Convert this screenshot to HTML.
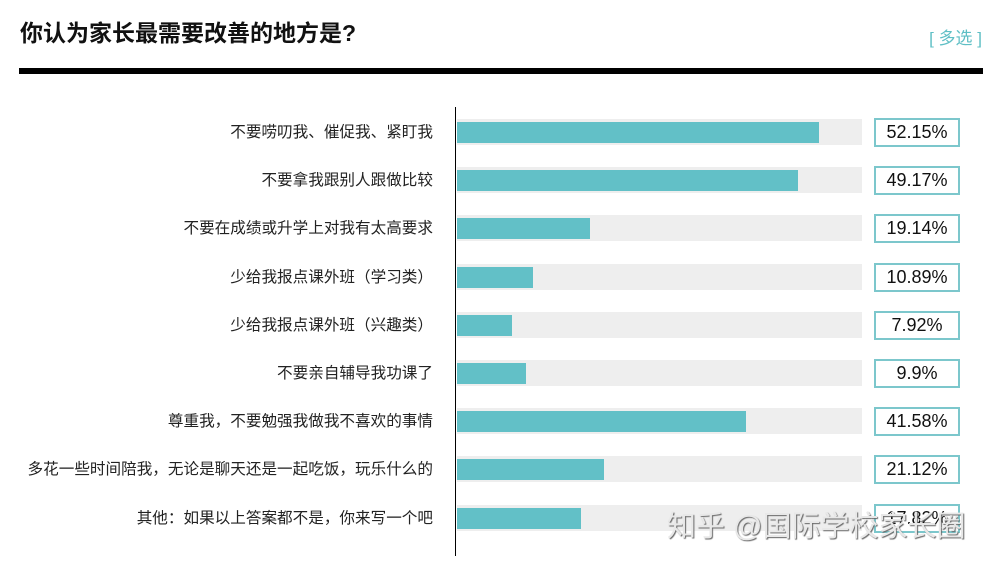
<!DOCTYPE html><html><head><meta charset="utf-8"><style>
body{margin:0;width:994px;height:562px;background:#fff;position:relative;overflow:hidden;font-family:"Liberation Sans","Noto Sans CJK SC",sans-serif}
.a{position:absolute}
.t{left:20px;top:14px;font-size:23px;font-weight:bold;color:#111}
.m{right:12px;top:24px;font-size:17px;color:#5fbfc5}
.lab{right:561px;font-size:15.6px;color:#222;white-space:nowrap;line-height:20px}
.tr{left:457px;width:405px;height:26px;background:#eeeeee}
.b{left:457px;height:21px;background:#62c0c7}
.v{left:874px;width:82px;height:25px;border:2px solid #7cc7cc;font-size:18px;color:#111;text-align:center;line-height:25px;background:#fff}
</style></head><body>
<div class="a t">你认为家长最需要改善的地方是?</div>
<div class="a m">[ 多选 ]</div>
<div class="a" style="left:19px;top:68px;width:964px;height:6px;background:#000"></div>
<div class="a" style="left:455px;top:107px;width:1px;height:449px;background:#000"></div>
<div id="c"></div>
<div class="a" style="left:667px;top:503px;font-size:29px;color:#e8e8e8;text-shadow:1px 1px 1px #666;white-space:nowrap">知乎 @国际学校家长圈</div>
<script>
var d=[["不要唠叨我、催促我、紧盯我",52.15],["不要拿我跟别人跟做比较",49.17],["不要在成绩或升学上对我有太高要求",19.14],["少给我报点课外班（学习类）",10.89],["少给我报点课外班（兴趣类）",7.92],["不要亲自辅导我功课了",9.9],["尊重我，不要勉强我做我不喜欢的事情",41.58],["多花一些时间陪我，无论是聊天还是一起吃饭，玩乐什么的",21.12],["其他：如果以上答案都不是，你来写一个吧",17.82]];
var h="";d.forEach(function(r,i){var y=132+i*48.2;
h+='<div class="a tr" style="top:'+(y-13)+'px"></div><div class="a b" style="top:'+(y-10)+'px;width:'+(r[1]*6.94)+'px"></div><div class="a lab" style="top:'+(y-9)+'px">'+r[0]+'</div><div class="a v" style="top:'+(y-14)+'px">'+r[1]+'%</div>';});
document.getElementById("c").innerHTML=h;
</script></body></html>
